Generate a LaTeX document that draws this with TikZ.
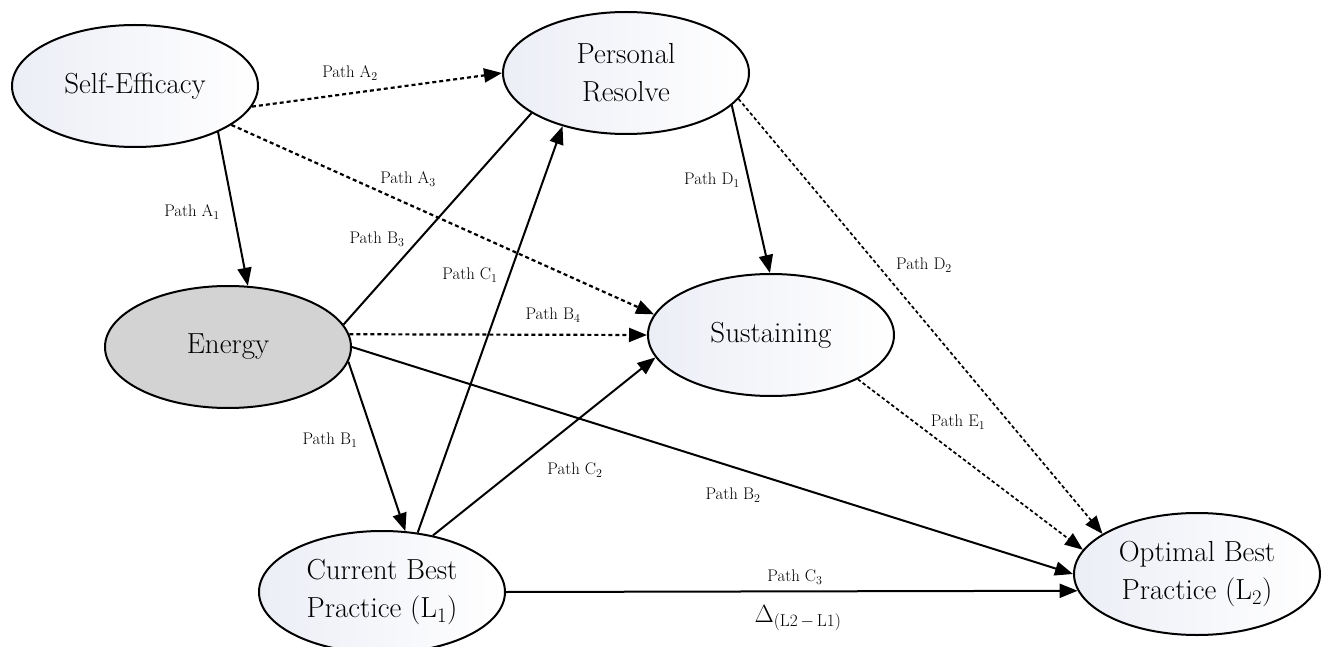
\documentclass[tikz,border=0pt]{standalone}
\usetikzlibrary{arrows.meta,shapes.geometric}
\definecolor{ellfill}{RGB}{236,238,246}
\definecolor{energyfill}{RGB}{211,211,211}
\begin{document}
\begin{tikzpicture}[x=1pt,y=-1pt,
  ellbase/.style={ellipse, draw, line width=2pt, minimum width=246pt, minimum height=122pt,
    inner sep=0pt, align=center, font=\fontsize{29}{38}\selectfont},
  ell/.style={ellbase, left color=ellfill, right color=white},
  lab/.style={font=\fontsize{16.8}{20}\selectfont, inner sep=0pt},
  tip/.style={-{Triangle[length=18pt,width=14pt]}},
  sol/.style={line width=2pt, tip},
  dsh/.style={line width=2.2pt, dash pattern=on 4pt off 3pt, tip},
  dshthin/.style={line width=1.7pt, dash pattern=on 3.5pt off 2.5pt, tip},
  plain/.style={line width=2pt}]
\useasboundingbox (0,0) rectangle (1323,647);

% nodes
\node[ell] (SE) at (135,86) {Self-Efficacy};
\node[ell] (PR) at (626,73) {Personal\\Resolve};
\node[ellbase, fill=energyfill] (EN) at (228,347) {Energy};
\node[ell] (SU) at (771,335) {Sustaining};
\node[ell] (CB) at (382,592) {Current Best\\Practice (L$_1$)};
\node[ell] (OB) at (1197,574) {Optimal Best\\Practice (L$_2$)};

% connectors
\draw[sol] (SE.-29) -- (EN.72);
\draw[dsh] (SE.-10.6) -- (PR.180);
\draw[dsh] (SE.-22) -- (SU.170.5);
\draw[plain] (EN.11.6) -- (PR.203);
\draw[sol] (CB.59.3) -- (PR.-140.7);
\draw[dsh] (EN.6) -- (SU.180);
\draw[sol] (EN.0) -- (OB.180.5);
\draw[sol] (EN.-7) -- (CB.69.6);
\draw[sol] (CB.48.2) -- (SU.191.2);
\draw[sol] (CB.0) -- (OB.188);
\draw[sol] (PR.-17.8) -- (SU.91);
\draw[dshthin] (PR.-13) -- (OB.157.7);
\draw[dshthin] (SU.-27.3) -- (OB.168.5);

% labels
\node[lab] (lA1) at (192,212) {Path A$_1$};
\node[lab] (lA2) at (350,73) {Path A$_2$};
\node[lab] (lA3) at (408,179) {Path A$_3$};
\node[lab] (lB3) at (377,239) {Path B$_3$};
\node[lab] (lC1) at (470,275) {Path C$_1$};
\node[lab] (lB4) at (553,315) {Path B$_4$};
\node[lab] (lD1) at (712,180) {Path D$_1$};
\node[lab] (lD2) at (924,265) {Path D$_2$};
\node[lab] (lB1) at (330,440) {Path B$_1$};
\node[lab] (lC2) at (575,470) {Path C$_2$};
\node[lab] (lB2) at (733,495) {Path B$_2$};
\node[lab] (lE1) at (958,422) {Path E$_1$};
\node[lab] (lC3) at (795,577) {Path C$_3$};
\node[font=\fontsize{26}{30}\selectfont, inner sep=0pt] (delta) at (798,618) {$\Delta_{(\mathrm{L2}\,-\,\mathrm{L1})}$};
\end{tikzpicture}
\end{document}
